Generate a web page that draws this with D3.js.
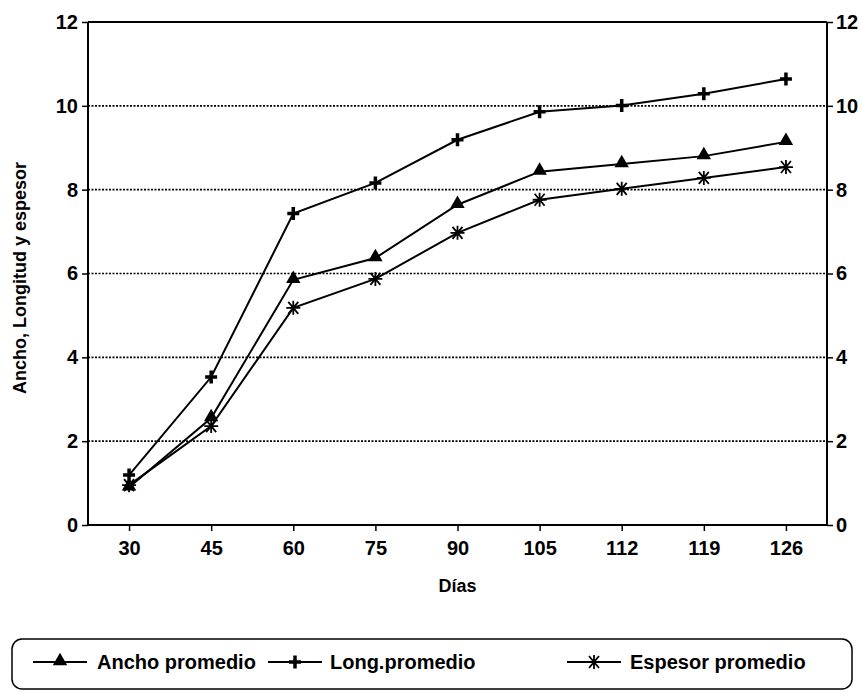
<!DOCTYPE html>
<html><head><meta charset="utf-8">
<script src="https://cdn.jsdelivr.net/npm/d3@7"></script>
<style>body{margin:0;background:#fff}text{font-family:"Liberation Sans",Arial,sans-serif;fill:#000;font-weight:bold}</style>
</head><body>
<svg id="c" width="862" height="692"></svg>
<script>
const categories = ["30","45","60","75","90","105","112","119","126"];
const ancho   = [0.90, 2.55, 5.85, 6.37, 7.64, 8.43, 8.61, 8.80, 9.14];
const longitud= [1.19, 3.53, 7.43, 8.16, 9.19, 9.86, 10.01, 10.29, 10.64];
const espesor = [0.95, 2.36, 5.18, 5.87, 6.97, 7.76, 8.02, 8.28, 8.54];
const yTicks  = [0, 2, 4, 6, 8, 10, 12];
const seriesNames = ["Ancho promedio", "Long.promedio", "Espesor promedio"];
const xTitle = "Días";
const yTitle = "Ancho, Longitud y espesor";

const svg = d3.select("#c");
const L = 88, R = 827, T = 22, B = 525;
const x = d3.scalePoint().domain(categories).range([L, R]).padding(0.5);
const y = d3.scaleLinear().domain([0, 12]).range([B, T]);

// gridlines
svg.append("g").selectAll("line").data(yTicks.filter(d => d > 0 && d < 12)).join("line")
  .attr("x1", L).attr("x2", R).attr("y1", d => y(d)).attr("y2", d => y(d))
  .attr("stroke", "#000").attr("stroke-width", 1.6).attr("stroke-dasharray", "2,1.5");
// top border
svg.append("line").attr("x1", L).attr("x2", R).attr("y1", y(12)).attr("y2", y(12))
  .attr("stroke", "#000").attr("stroke-width", 2);

const fs = "20px";
const ya = d3.axisLeft(y).tickValues(yTicks).tickSize(6).tickPadding(4).tickFormat(d3.format("d"));
const gl = svg.append("g").attr("transform", `translate(${L},0)`).call(ya);
const yr = d3.axisRight(y).tickValues(yTicks).tickSize(6).tickPadding(3).tickFormat(d3.format("d"));
const gr = svg.append("g").attr("transform", `translate(${R},0)`).call(yr);
const xa = d3.axisBottom(x).tickSize(6).tickPadding(10);
const gx = svg.append("g").attr("transform", `translate(0,${B})`).call(xa);
[gl, gr, gx].forEach(g => {
  g.selectAll("path.domain").attr("stroke", "#000").attr("stroke-width", 2);
  g.selectAll(".tick line").attr("stroke", "#000").attr("stroke-width", 1.5);
  g.selectAll("text").attr("font-size", fs).attr("font-family", "Liberation Sans, Arial, sans-serif")
    .attr("font-weight", "bold").attr("fill", "#000");
  g.attr("font-size", fs);
});
gx.selectAll("path.domain").attr("d", `M${L},0H${R}`);
gl.selectAll("path.domain").attr("d", `M0,${B}V${T}`);
gr.selectAll("path.domain").attr("d", `M0,${B}V${T}`);

// titles
svg.append("text").attr("x", x("90")).attr("y", 592).attr("text-anchor", "middle")
  .attr("font-size", "18px").text(xTitle);
svg.append("text").attr("transform", "translate(26,278) rotate(-90)").attr("text-anchor", "middle")
  .attr("font-size", "18px").text(yTitle);

// markers
const sym = {
  tri: d3.symbol().type(d3.symbolTriangle).size(90),
  plus: "M-6,0H6M0,-6.5V6.5",
  star: "M-7,0H7M-5,-6L5,6M-5,6L5,-6M0,-7V7"
};
function marker(g, kind) {
  if (kind === "tri") g.append("path").attr("d", sym.tri()).attr("fill", "#000").attr("transform", "translate(0,-1)");
  else if (kind === "plus") g.append("path").attr("d", sym.plus).attr("stroke", "#000").attr("stroke-width", 3.5).attr("fill", "none");
  else g.append("path").attr("d", sym.star).attr("stroke", "#000").attr("stroke-width", 1.8).attr("fill", "none");
}
const series = [[ancho, "tri"], [longitud, "plus"], [espesor, "star"]];
const line = d3.line().x((d, i) => x(categories[i])).y(d => y(d));
series.forEach(([vals, kind]) => {
  svg.append("path").datum(vals).attr("d", line).attr("fill", "none").attr("stroke", "#000").attr("stroke-width", 2);
});
series.forEach(([vals, kind]) => {
  vals.forEach((v, i) => {
    const g = svg.append("g").attr("transform", `translate(${x(categories[i])},${y(v)})`);
    marker(g, kind);
  });
});

// legend
svg.append("rect").attr("x", 12).attr("y", 639).attr("width", 840).attr("height", 50).attr("rx", 10)
  .attr("fill", "none").attr("stroke", "#000").attr("stroke-width", 1.5);
const legX = [[33, 97], [268, 330], [567, 630]];
series.forEach(([vals, kind], i) => {
  const [lx, tx] = legX[i];
  svg.append("line").attr("x1", lx).attr("x2", lx + 54).attr("y1", 662).attr("y2", 662).attr("stroke", "#000").attr("stroke-width", 2);
  marker(svg.append("g").attr("transform", `translate(${lx + 27},662)`), kind);
  svg.append("text").attr("x", tx).attr("y", 669).attr("font-size", "20px").text(seriesNames[i]);
});
</script>
</body></html>
